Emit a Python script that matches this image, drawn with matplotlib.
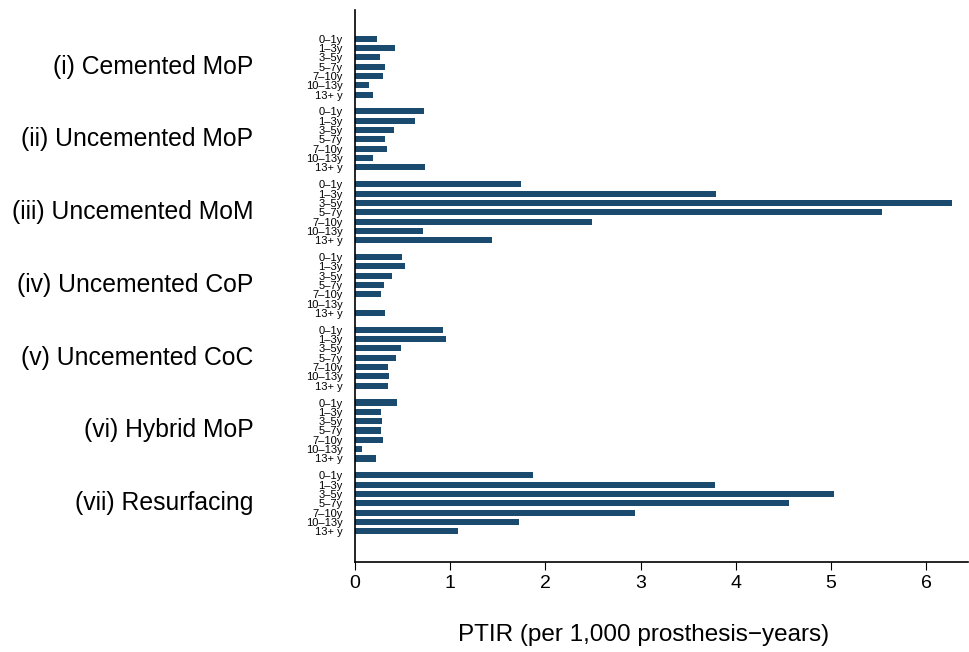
import matplotlib.pyplot as plt
import numpy as np

plt.rcParams['font.family'] = ['Liberation Sans', 'DejaVu Sans']

groups = ['(i) Cemented MoP', '(ii) Uncemented MoP', '(iii) Uncemented MoM',
          '(iv) Uncemented CoP', '(v) Uncemented CoC', '(vi) Hybrid MoP',
          '(vii) Resurfacing']
periods = ['0\u20131y', '1\u20133y', '3\u20135y', '5\u20137y', '7\u201310y',
           '10\u201313y', '13+ y']

# PTIR per 1,000 prosthesis-years, one list per fixation/bearing group
cemented_mop = [0.23, 0.42, 0.26, 0.31, 0.29, 0.15, 0.19]
uncemented_mop = [0.72, 0.63, 0.41, 0.31, 0.34, 0.19, 0.73]
uncemented_mom = [1.74, 3.79, 6.27, 5.54, 2.49, 0.71, 1.44]
uncemented_cop = [0.49, 0.53, 0.39, 0.30, 0.27, 0.0, 0.31]
uncemented_coc = [0.92, 0.96, 0.48, 0.43, 0.35, 0.36, 0.35]
hybrid_mop = [0.44, 0.27, 0.28, 0.27, 0.29, 0.07, 0.22]
resurfacing = [1.87, 3.78, 5.03, 4.56, 2.94, 1.72, 1.08]

series = [cemented_mop, uncemented_mop, uncemented_mom, uncemented_cop,
          uncemented_coc, hybrid_mop, resurfacing]

group_step = 7.8
fig = plt.figure(figsize=(9.69, 6.52), dpi=100)
ax = fig.add_axes([0.3664, 0.138, 0.6326, 0.847])

ypos, vals, labs = [], [], []
for g, values in enumerate(series):
    for j, v in enumerate(values):
        ypos.append(g * group_step + j)
        vals.append(v)
        labs.append(periods[j])

ax.barh(ypos, vals, height=0.65, color='#1b4a6f')

ax.set_yticks(ypos)
ax.set_yticklabels(labs, fontsize=8)
ax.tick_params(axis='y', length=0, pad=9)
ax.set_ylim(6 * group_step + 6 + 3.3, -3.1)

for g, name in enumerate(groups):
    ax.text(-0.166, g * group_step + 3, name, transform=ax.get_yaxis_transform(),
            ha='right', va='center', fontsize=17.8)

ax.set_xlim(0, 6.44)
ax.set_xticks(range(7))
ax.tick_params(axis='x', labelsize=14, length=6, direction='out')
ax.set_xlabel('PTIR (per 1,000 prosthesis\u2212years)', fontsize=17.5)
ax.xaxis.label.set_va('center')
ax.xaxis.set_label_coords(0.47, -0.132)

for s in ['top', 'right']:
    ax.spines[s].set_visible(False)
for s in ['left', 'bottom']:
    ax.spines[s].set_linewidth(1.2)

fig.savefig('out.png', dpi=100)
